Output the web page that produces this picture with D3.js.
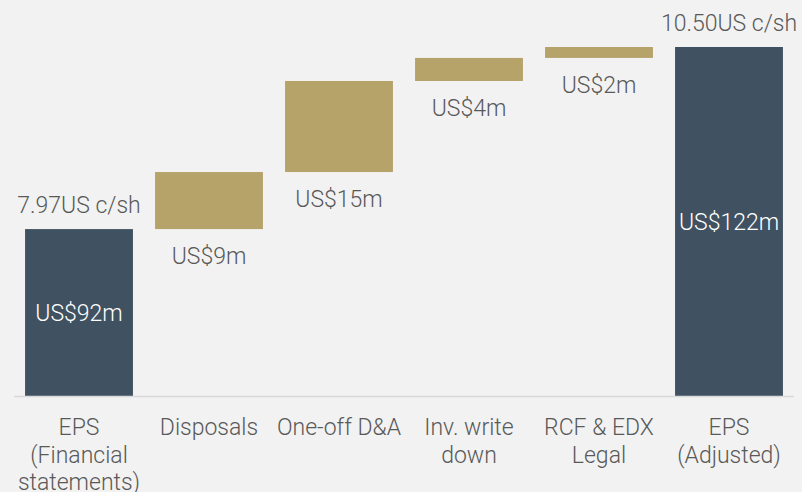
<!DOCTYPE html>
<html>
<head>
<meta charset="utf-8">
<script src="https://cdn.jsdelivr.net/npm/d3@7"></script>
<style>
  body { margin: 0; background: #f2f2f2; }
  svg { display: block; font-family: Roboto, "Noto Sans", sans-serif; font-weight: 300; }
</style>
</head>
<body>
<script>
// waterfall data (US$m)
var categories = [["EPS", "(Financial", "statements)"], ["Disposals"], ["One-off D&A"],
                  ["Inv. write", "down"], ["RCF & EDX", "Legal"], ["EPS", "(Adjusted)"]];
var kinds = ["total", "step", "step", "step", "step", "total"];
var values = [92, 9.4, 15.0, 3.8, 1.8, 122];
var valueLabels = ["US$92m", "US$9m", "US$15m", "US$4m", "US$2m", "US$122m"];
var epsLabels = ["7.97US c/sh", null, null, null, null, "10.50US c/sh"];

var width = 802, height = 492;

var svg = d3.select("body").append("svg")
    .attr("width", width)
    .attr("height", height);

svg.append("rect").attr("width", width).attr("height", height).attr("fill", "#f2f2f2");

var x = d3.scaleBand()
    .domain(d3.range(categories.length))
    .range([14, 794])
    .paddingInner(0.17)
    .paddingOuter(0.085);

// axis is truncated, baseline is not zero
var y = d3.scaleLinear()
    .domain([64.5, 122])
    .range([396, 47]);

// build start/end of each bar
var running = 0;
var bars = values.map(function(v, i) {
    var d = {i: i, kind: kinds[i]};
    if (kinds[i] == "total") {
        d.start = y.domain()[0]; d.end = v; running = v;
    } else {
        d.start = running; d.end = running + v; running += v;
    }
    return d;
});

svg.selectAll(".bar")
    .data(bars)
    .enter()
    .append("rect")
    .attr("class", "bar")
    .attr("x", function(d) { return x(d.i); })
    .attr("width", x.bandwidth())
    .attr("y", function(d) { return y(d.end); })
    .attr("height", function(d) { return y(d.start) - y(d.end); })
    .attr("fill", function(d) { return d.kind == "total" ? "#405261" : "#b5a36a"; });

// baseline
svg.append("line")
    .attr("x1", 14).attr("x2", 794)
    .attr("y1", 396.5).attr("y2", 396.5)
    .attr("stroke", "#d9d9d9")
    .attr("stroke-width", 1.5);

// value labels
svg.selectAll(".vlab")
    .data(bars)
    .enter()
    .append("text")
    .attr("class", "vlab")
    .attr("x", function(d) { return x(d.i) + x.bandwidth() / 2; })
    .attr("y", function(d) {
        if (d.kind == "total") return (y(d.start) + y(d.end)) / 2 + 8;
        return y(d.start) + 35;
    })
    .attr("text-anchor", "middle")
    .attr("font-size", 23)
    .attr("fill", function(d) { return d.kind == "total" ? "#ffffff" : "#595959"; })
    .text(function(d) { return valueLabels[d.i]; });

// EPS labels above totals
svg.selectAll(".elab")
    .data(bars.filter(function(d) { return epsLabels[d.i]; }))
    .enter()
    .append("text")
    .attr("class", "elab")
    .attr("x", function(d) { return x(d.i) + x.bandwidth() / 2; })
    .attr("y", function(d) { return y(d.end) - 16; })
    .attr("text-anchor", "middle")
    .attr("font-size", 23)
    .attr("fill", "#595959")
    .text(function(d) { return epsLabels[d.i]; });

// category labels
var cat = svg.selectAll(".cat")
    .data(categories)
    .enter()
    .append("text")
    .attr("class", "cat")
    .attr("x", function(d, i) { return x(i) + x.bandwidth() / 2; })
    .attr("y", 435)
    .attr("text-anchor", "middle")
    .attr("font-size", 23)
    .attr("fill", "#595959");

cat.selectAll("tspan")
    .data(function(d) { return d; })
    .enter()
    .append("tspan")
    .attr("x", function() { return d3.select(this.parentNode).attr("x"); })
    .attr("dy", function(d, j) { return j == 0 ? 0 : 27.5; })
    .text(function(d) { return d; });
</script>
</body>
</html>
